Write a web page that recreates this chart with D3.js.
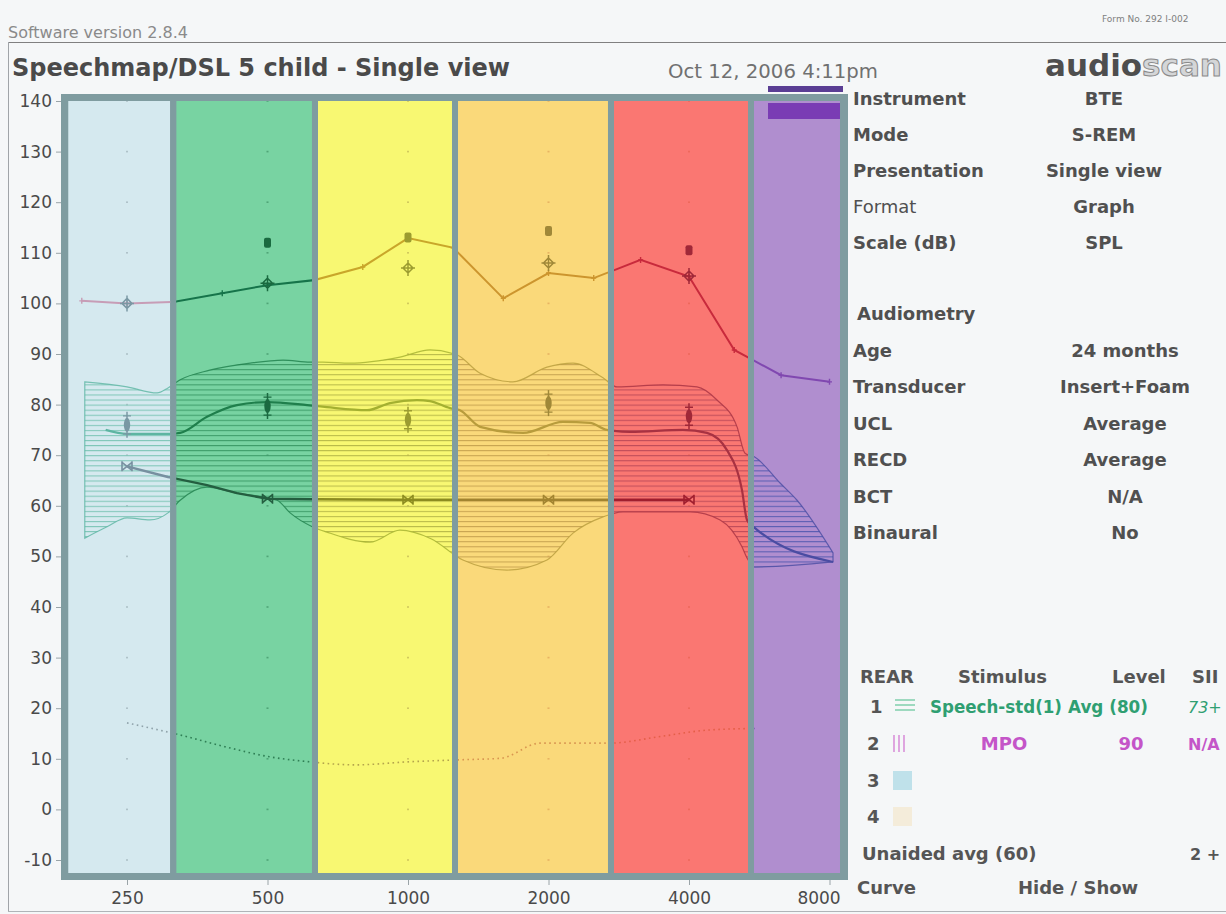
<!DOCTYPE html>
<html>
<head>
<meta charset="utf-8">
<title>Speechmap/DSL 5 child - Single view</title>
<script src="https://cdn.jsdelivr.net/npm/d3@7/dist/d3.min.js"></script>
<style>
  html, body { margin: 0; padding: 0; background: #f5f7f8; }
  svg { display: block; font-family: "DejaVu Sans", sans-serif; }
</style>
</head>
<body>
<svg id="chart" width="1226" height="914"></svg>
<script>
// ---------------- Data ----------------
const freqTicks  = [250, 500, 1000, 2000, 4000, 8000];
const levelTicks = [140, 130, 120, 110, 100, 90, 80, 70, 60, 50, 40, 30, 20, 10, 0, -10];
const gridFreqs  = [250, 500, 1000, 2000, 4000];

// Speech frequency regions (Hz)
const bandEdges = [187, 314, 632, 1261, 2722, 5431, 8425];

// Curve 2: MPO response, dB SPL
const mpoCurve = [[200,100.5],[250,100],[315,100.3],[400,102],[500,103.6],[630,104.6],[800,107.2],
  [1000,112.9],[1250,111],[1600,101],[2000,106],[2500,105],[3150,108.6],[4000,105.3],
  [5000,90.8],[6300,85.8],[8000,84.5]];

// Curve 1: aided speech (Speech-std(1)), upper / lower envelope and average
const speechUpper = [[203,84.5],[250,83.5],[290,82.3],[306,83.3],[325,84.9],[376,86.8],[459,88.2],
  [540,88.8],[617,88.4],[657,88.4],[751,88.2],[961,89.4],[1115,90.8],[1274,89.8],[1427,86.2],
  [1678,84.5],[1985,87.4],[2257,88.2],[2617,85.3],[2805,83.5],[3519,83.9],[4161,83.5],
  [4593,80.9],[5070,75.6],[5273,70.4],[5540,69.6],[6268,64.5],[6816,61.1],[8140,50.7]];
const speechLower = [[203,53.6],[226,55.8],[250,57.6],[280,57.2],[306,58.6],[325,61.1],[371,63.7],
  [430,62.5],[524,61.1],[559,58.6],[626,55.8],[670,54.8],[829,52.8],[961,55.2],[1120,53.5],
  [1311,49.3],[1630,47.3],[1985,49.3],[2257,54.6],[2617,57.8],[2888,58.8],[4020,58.8],
  [4663,57.2],[5195,51.9],[5325,49.7],[5540,47.9],[8140,48.9]];
const speechMid = [[225,75],[250,74.2],[306,74.2],[325,74.4],[371,77.6],[430,79.9],[500,80.5],
  [608,79.9],[670,79.5],[817,78.9],[915,80.3],[1045,80.9],[1115,80.7],[1230,79.3],[1292,78.9],
  [1427,75.6],[1764,74.4],[2148,76.6],[2454,76.4],[2669,75],[2990,74.6],[3883,75],[4371,74.4],
  [4824,71],[5195,63.1],[5325,57.2],[5540,55.6],[8140,48.9]];

// Hearing threshold (dB SPL)
const threshold = [[250,67.8],[306,65.7],[371,64.1],[430,62.5],[500,61.4],[630,61.3],[1000,61.2],[2000,61.2],[4000,61.2]];
const thresholdMarks = [250, 500, 1000, 2000, 4000];

// Target / limit symbols
const uclMarks    = [[500,112],[1000,113],[2000,114.3],[4000,110.5]];
const mpoTargets  = [[250,100],[500,104],[1000,107],[2000,108],[4000,105.4]];
const speechTargets = [[250,76],[500,79.7],[1000,77],[2000,80.3],[4000,77.7]];

// Unaided average (60)
const unaided = [[250,17.1],[325,14.7],[405,12.4],[505,10.4],[615,9.4],[770,8.8],[1000,9.4],
  [1290,9.8],[1580,10.1],[1920,13.1],[2710,13.1],[3470,14.4],[4430,15.7],[5600,16]];

// Side panel text
const fitLabels  = ['Instrument', 'Mode', 'Presentation', 'Format', 'Scale (dB)'];
const fitValues  = ['BTE', 'S-REM', 'Single view', 'Graph', 'SPL'];
const audLabels  = ['Age', 'Transducer', 'UCL', 'RECD', 'BCT', 'Binaural'];
const audValues  = ['24 months', 'Insert+Foam', 'Average', 'Average', 'N/A', 'No'];

// ---------------- Styles ----------------
const bandFills = ['#d5e9ef', '#78d3a2', '#f8f872', '#fad97a', '#fa7772', '#b08ecf'];
const inks = [
  {hatch:'#7fc6b8', speech:'#5db5a2', mpo:'#c79db6', thresh:'#7790a0', dots:'#8fa2aa', mark:'#7a98a4'},
  {hatch:'#3f9d6a', speech:'#1f7f4c', mpo:'#16744a', thresh:'#245e40', dots:'#2f7f55', mark:'#1a6a40'},
  {hatch:'#b9ba4a', speech:'#a4b030', mpo:'#c9a62a', thresh:'#8c8c20', dots:'#b3a44c', mark:'#9c9c30'},
  {hatch:'#c9a552', speech:'#b89c3c', mpo:'#cc952e', thresh:'#a28430', dots:'#d99650', mark:'#a08838'},
  {hatch:'#c04d5a', speech:'#a83242', mpo:'#c82a3c', thresh:'#a01e2e', dots:'#e45e48', mark:'#a02838'},
  {hatch:'#5a5db2', speech:'#4a4ca2', mpo:'#8048b0', thresh:'#4a4aa0', dots:'#8262b2', mark:'#6040a0'}
];
const frameColor = '#7f9ca0';
const frame = {left: 61, right: 848, top: 94, bottom: 880, innerTop: 101, innerBottom: 873};

// ---------------- Scales ----------------
const x = d3.scaleLog().domain([250, 8000]).range([127, 829.5]);
const y = d3.scaleLinear().domain([-10, 140]).range([860, 101]);
const dbStep = y(0) - y(1);

const svg = d3.select('#chart');
const defs = svg.append('defs');

// ---------------- Page furniture ----------------
svg.append('line').attr('x1', 8).attr('x2', 1226).attr('y1', 42.5).attr('y2', 42.5)
  .attr('stroke', '#808080').attr('stroke-width', 1.2);
svg.append('line').attr('x1', 8.5).attr('x2', 8.5).attr('y1', 42).attr('y2', 911)
  .attr('stroke', '#a0a4a8').attr('stroke-width', 1);
svg.append('line').attr('x1', 8).attr('x2', 1226).attr('y1', 911.5).attr('y2', 911.5)
  .attr('stroke', '#b0b4b8').attr('stroke-width', 1);

svg.append('text').attr('x', 8).attr('y', 38).attr('font-size', 16).attr('fill', '#8a8a8a')
  .text('Software version 2.8.4');
svg.append('text').attr('x', 1102).attr('y', 22).attr('font-size', 9).attr('fill', '#808080')
  .text('Form No. 292   I-002');
svg.append('text').attr('x', 12).attr('y', 76).attr('font-size', 24).attr('font-weight', 'bold')
  .attr('fill', '#4a4a4a').text('Speechmap/DSL 5 child - Single view');
svg.append('text').attr('x', 668).attr('y', 78).attr('font-size', 19).attr('fill', '#707070')
  .attr('textLength', 210).attr('lengthAdjust', 'spacingAndGlyphs').text('Oct 12, 2006 4:11pm');
const logo = svg.append('text').attr('x', 1045).attr('y', 76).attr('font-size', 31).attr('font-weight', 'bold');
logo.append('tspan').attr('fill', '#4e4e4e').text('audio');
logo.append('tspan').attr('fill', '#d4d6d8').attr('stroke', '#8a8a8a').attr('stroke-width', 1).text('scan');

// ---------------- Plot frame and bands ----------------
svg.append('rect').attr('x', frame.left).attr('y', frame.top)
  .attr('width', frame.right - frame.left).attr('height', frame.bottom - frame.top)
  .attr('fill', frameColor);

const lineOf = (curve) => d3.line().x(d => x(d[0])).y(d => y(d[1])).curve(curve);
const smooth = lineOf(d3.curveMonotoneX);
const straight = lineOf(d3.curveLinear);

const upperPath = smooth(speechUpper);
const lowerPath = smooth(speechLower.slice().reverse());
const speechAreaPath = upperPath + 'L' + lowerPath.slice(1) + 'Z';

const nBands = bandEdges.length - 1;
for (let i = 0; i < nBands; i++) {
  const x0 = i === 0 ? x(bandEdges[0]) : x(bandEdges[i]) + 3;
  const x1 = i === nBands - 1 ? x(bandEdges[nBands]) : x(bandEdges[i + 1]) - 3;
  const ink = inks[i];

  defs.append('clipPath').attr('id', 'band' + i)
    .append('rect').attr('x', x0).attr('y', frame.innerTop)
    .attr('width', x1 - x0).attr('height', frame.innerBottom - frame.innerTop);

  const pat = defs.append('pattern').attr('id', 'hatch' + i)
    .attr('patternUnits', 'userSpaceOnUse').attr('x', 0).attr('y', y(0))
    .attr('width', 40).attr('height', dbStep);
  pat.append('line').attr('x1', 0).attr('x2', 40).attr('y1', 0.6).attr('y2', 0.6)
    .attr('stroke', ink.hatch).attr('stroke-width', 1.1);

  const g = svg.append('g').attr('clip-path', `url(#band${i})`);
  g.append('rect').attr('x', x0).attr('y', frame.innerTop)
    .attr('width', x1 - x0).attr('height', frame.innerBottom - frame.innerTop)
    .attr('fill', bandFills[i]);

  // grid dots
  gridFreqs.forEach(f => levelTicks.forEach(v => {
    g.append('rect').attr('x', x(f) - 1).attr('y', y(v) - 0.8).attr('width', 2).attr('height', 1.6)
      .attr('fill', ink.dots).attr('opacity', 0.55);
  }));

  // unaided average (dotted)
  g.append('path').attr('d', smooth(unaided)).attr('fill', 'none')
    .attr('stroke', ink.dots).attr('stroke-width', 1.6).attr('stroke-dasharray', '1.6,3.4');

  // aided speech region
  g.append('path').attr('d', speechAreaPath).attr('fill', `url(#hatch${i})`)
    .attr('stroke', ink.speech).attr('stroke-width', 1.2).attr('stroke-opacity', 0.8);
  g.append('path').attr('d', smooth(speechMid)).attr('fill', 'none')
    .attr('stroke', ink.speech).attr('stroke-width', 2.2);

  // threshold
  g.append('path').attr('d', straight(threshold)).attr('fill', 'none')
    .attr('stroke', ink.thresh).attr('stroke-width', 2.4);
  thresholdMarks.forEach(f => {
    const v = threshold.find(d => d[0] === f)[1];
    g.append('path').attr('transform', `translate(${x(f)},${y(v)})`)
      .attr('d', 'M-5,-4L5,4M-5,4L5,-4M-5,-5V5M5,-5V5')
      .attr('fill', 'none').attr('stroke', ink.thresh).attr('stroke-width', 1.6);
  });

  // MPO curve
  g.append('path').attr('d', straight(mpoCurve)).attr('fill', 'none')
    .attr('stroke', ink.mpo).attr('stroke-width', 2);
  mpoCurve.forEach(d => {
    g.append('path').attr('transform', `translate(${x(d[0])},${y(d[1])})`)
      .attr('d', 'M0,-3V3M-2.5,0H2.5').attr('stroke', ink.mpo).attr('stroke-width', 1.4);
  });

  // target MPO symbols
  mpoTargets.forEach(d => {
    g.append('path').attr('transform', `translate(${x(d[0])},${y(d[1])})`)
      .attr('d', 'M0,-5L5,0L0,5L-5,0ZM0,-8V8M-7,0H7')
      .attr('fill', 'none').attr('stroke', ink.mark).attr('stroke-width', 1.5);
  });
  // UCL symbols
  uclMarks.forEach(d => {
    g.append('rect').attr('x', x(d[0]) - 3.5).attr('y', y(d[1]) - 5).attr('width', 7).attr('height', 10)
      .attr('rx', 2).attr('fill', ink.mark);
  });
  // speech targets
  speechTargets.forEach(d => {
    const cx = x(d[0]), cy = y(d[1]);
    g.append('path').attr('d', `M${cx},${cy - 13}V${cy + 13}`).attr('stroke', ink.mark).attr('stroke-width', 1.5);
    g.append('ellipse').attr('cx', cx).attr('cy', cy).attr('rx', 3.2).attr('ry', 7).attr('fill', ink.mark);
    g.append('path').attr('d', `M${cx - 4},${cy - 9}H${cx + 4}M${cx - 4},${cy + 9}H${cx + 4}`)
      .attr('stroke', ink.mark).attr('stroke-width', 1.4);
  });
}

// marker block at the top-right of the plot
svg.append('rect').attr('x', 768).attr('y', 86).attr('width', 75).attr('height', 6).attr('fill', '#5a3e94');
svg.append('rect').attr('x', 768).attr('y', 103).attr('width', 72).attr('height', 16).attr('fill', '#7a3cb4');

// ---------------- Axes ----------------
const yAxis = svg.append('g').attr('transform', `translate(${frame.left},0)`)
  .call(d3.axisLeft(y).tickValues(levelTicks).tickSize(5).tickPadding(4).tickFormat(d => String(d)));
yAxis.select('.domain').remove();
yAxis.selectAll('line').attr('stroke', '#9aa4a8');
yAxis.selectAll('text').attr('font-size', 17).attr('fill', '#4a4a4a').attr('font-family', 'DejaVu Sans');

const xAxis = svg.append('g').attr('transform', `translate(0,${frame.bottom})`)
  .call(d3.axisBottom(x).tickValues(freqTicks).tickSize(5).tickPadding(7).tickFormat(d => String(d)));
xAxis.select('.domain').remove();
xAxis.selectAll('line').attr('stroke', '#9aa4a8');
xAxis.selectAll('text').attr('font-size', 17).attr('fill', '#4a4a4a').attr('font-family', 'DejaVu Sans')
  .attr('dx', d => d === 8000 ? -11 : 0);

// ---------------- Side panel ----------------
const panel = svg.append('g').attr('font-size', 18).attr('font-weight', 'bold').attr('fill', '#505050');
fitLabels.forEach((t, i) => {
  panel.append('text').attr('x', 853).attr('y', 105 + i * 36).text(t)
    .attr('font-weight', t === 'Format' ? 'normal' : 'bold');
  panel.append('text').attr('x', 1104).attr('y', 105 + i * 36).attr('text-anchor', 'middle')
    .text(fitValues[i]);
});
panel.append('text').attr('x', 857).attr('y', 320).text('Audiometry');
audLabels.forEach((t, i) => {
  panel.append('text').attr('x', 853).attr('y', 357 + i * 36.4).text(t);
  panel.append('text').attr('x', 1125).attr('y', 357 + i * 36.4).attr('text-anchor', 'middle')
    .text(audValues[i]);
});

// legend table
const lg = svg.append('g').attr('font-size', 18).attr('font-weight', 'bold').attr('fill', '#555');
lg.append('text').attr('x', 860).attr('y', 683).text('REAR');
lg.append('text').attr('x', 958).attr('y', 683).text('Stimulus');
lg.append('text').attr('x', 1112).attr('y', 683).text('Level');
lg.append('text').attr('x', 1192).attr('y', 683).text('SII');

lg.append('text').attr('x', 870).attr('y', 713).text('1');
[700, 705, 710].forEach(yy => lg.append('line').attr('x1', 895).attr('x2', 915)
  .attr('y1', yy).attr('y2', yy).attr('stroke', '#6ccaa0').attr('stroke-width', 1.3));
lg.append('text').attr('x', 930).attr('y', 713).attr('fill', '#2f9f72')
  .attr('textLength', 132).attr('lengthAdjust', 'spacingAndGlyphs').text('Speech-std(1)');
lg.append('text').attr('x', 1068).attr('y', 713).attr('fill', '#2f9f72')
  .attr('textLength', 80).attr('lengthAdjust', 'spacingAndGlyphs').text('Avg (80)');
lg.append('text').attr('x', 1188).attr('y', 713).attr('fill', '#2f9f72').attr('font-style', 'italic')
  .attr('font-weight', 'normal').attr('font-size', 16).text('73+');

lg.append('text').attr('x', 867).attr('y', 750).text('2');
[894, 899, 904].forEach(xx => lg.append('line').attr('x1', xx).attr('x2', xx)
  .attr('y1', 735).attr('y2', 752).attr('stroke', '#d27ad2').attr('stroke-width', 1.3));
lg.append('text').attr('x', 1004).attr('y', 750).attr('text-anchor', 'middle').attr('fill', '#c455c8').text('MPO');
lg.append('text').attr('x', 1131).attr('y', 750).attr('text-anchor', 'middle').attr('fill', '#c455c8').text('90');
lg.append('text').attr('x', 1188).attr('y', 750).attr('fill', '#c455c8').attr('font-size', 16).text('N/A');

lg.append('text').attr('x', 867).attr('y', 787).text('3');
lg.append('rect').attr('x', 893).attr('y', 771).attr('width', 19).attr('height', 19).attr('fill', '#bfe1ea');
lg.append('text').attr('x', 867).attr('y', 823).text('4');
lg.append('rect').attr('x', 893).attr('y', 807).attr('width', 19).attr('height', 19).attr('fill', '#f4ecda');

lg.append('text').attr('x', 862).attr('y', 860).text('Unaided avg (60)');
lg.append('text').attr('x', 1190).attr('y', 860).attr('font-size', 16).text('2 +');
lg.append('text').attr('x', 857).attr('y', 894).text('Curve');
lg.append('text').attr('x', 1018).attr('y', 894).text('Hide / Show');
</script>
</body>
</html>
